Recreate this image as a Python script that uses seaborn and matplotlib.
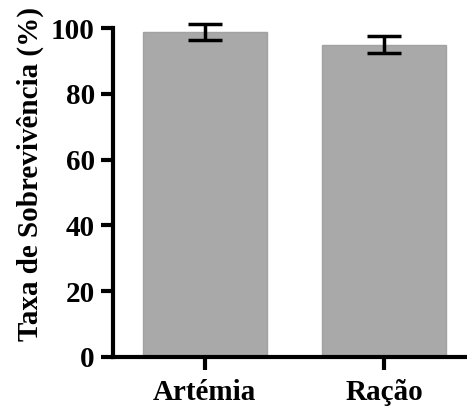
import numpy as np
import pandas as pd
import matplotlib
matplotlib.use("Agg")
import matplotlib.pyplot as plt
import seaborn as sns

# valores
grupos = ["Artémia", "Ração"]
sobrevivencia = [98.8, 95.0]
erro = [2.3, 2.5]

df = pd.DataFrame({"grupo": grupos, "taxa": sobrevivencia})

sns.set_style("ticks")
plt.rcParams['font.family'] = ['Liberation Serif', 'DejaVu Serif']
plt.rcParams['font.weight'] = 'bold'
plt.rcParams['text.color'] = 'black'
plt.rcParams['axes.labelcolor'] = 'black'

fig = plt.figure(figsize=(4.67, 4.07), dpi=100)
ax = fig.add_axes([0.242, 0.123, 0.758, 0.808])

sns.barplot(data=df, x="grupo", y="taxa", color="#a9a9a9", saturation=1,
            width=0.69, errorbar=None, ax=ax, edgecolor="#a2a2a2", linewidth=1)
ax.errorbar(range(len(grupos)), sobrevivencia, yerr=erro, fmt="none",
            ecolor="black", elinewidth=2.5, capsize=12, capthick=2.5,
            zorder=3, clip_on=False)

ax.set_ylim(0, 100)
ax.set_xlim(-0.51, 1.46)
ax.set_yticks([0, 20, 40, 60, 80, 100])
ax.set_xlabel("")
ax.set_ylabel("Taxa de Sobrevivência (%)", fontsize=21, fontweight="bold")
ax.yaxis.set_label_coords(-0.195, 0.555)
ax.tick_params(axis="both", width=3, length=9, labelsize=21, colors="black")
ax.tick_params(axis="y", pad=4)
ax.tick_params(axis="x", pad=7)
for lab in ax.get_xticklabels() + ax.get_yticklabels():
    lab.set_fontweight("bold")
sns.despine(ax=ax)
for s in ["left", "bottom"]:
    ax.spines[s].set_linewidth(3)
    ax.spines[s].set_color("black")

fig.savefig("out.png", dpi=100)
